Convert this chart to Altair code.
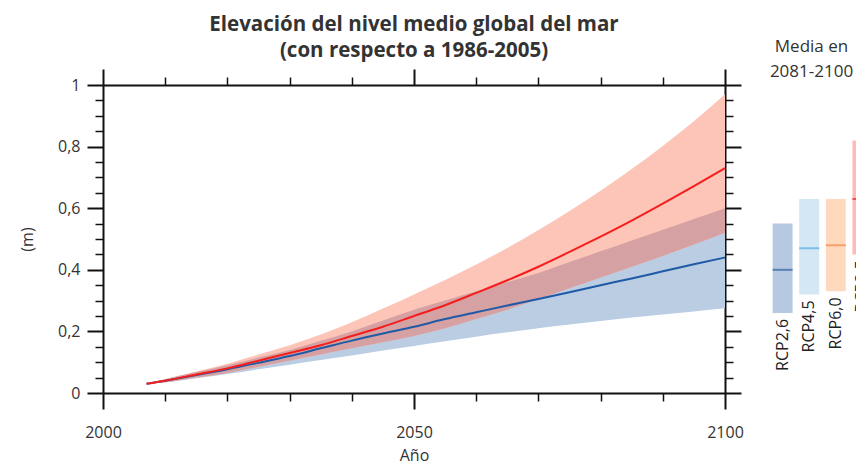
import altair as alt
import pandas as pd

# ---- time series ----
years = [2007, 2010, 2015, 2020, 2025, 2030, 2035, 2040, 2045, 2050,
         2055, 2060, 2065, 2070, 2075, 2080, 2085, 2090, 2095, 2100]

rcp85_mean = [0.030, 0.040, 0.060, 0.080, 0.105, 0.130, 0.155, 0.185, 0.215, 0.250,
              0.285, 0.325, 0.366, 0.410, 0.458, 0.508, 0.560, 0.615, 0.672, 0.730]
rcp85_low = [0.030, 0.035, 0.050, 0.065, 0.085, 0.105, 0.125, 0.145, 0.165, 0.185,
             0.210, 0.240, 0.270, 0.305, 0.340, 0.375, 0.410, 0.445, 0.482, 0.520]
rcp85_high = [0.030, 0.045, 0.070, 0.095, 0.125, 0.155, 0.190, 0.230, 0.274, 0.320,
              0.367, 0.417, 0.471, 0.529, 0.591, 0.657, 0.727, 0.802, 0.882, 0.970]

rcp26_mean = [0.030, 0.040, 0.058, 0.077, 0.098, 0.120, 0.145, 0.170, 0.193, 0.215,
              0.240, 0.262, 0.284, 0.305, 0.327, 0.350, 0.372, 0.395, 0.418, 0.440]
rcp26_low = [0.030, 0.035, 0.048, 0.062, 0.077, 0.092, 0.107, 0.122, 0.138, 0.153,
             0.168, 0.183, 0.197, 0.210, 0.222, 0.234, 0.245, 0.255, 0.265, 0.275]
rcp26_high = [0.030, 0.045, 0.068, 0.090, 0.115, 0.140, 0.170, 0.200, 0.235, 0.270,
              0.300, 0.330, 0.360, 0.390, 0.425, 0.460, 0.495, 0.530, 0.565, 0.600]

# ---- 2081-2100 averages ----
scenarios = ["RCP2,6", "RCP4,5", "RCP6,0", "RCP8,5"]
avg_mean = [0.40, 0.47, 0.48, 0.63]
avg_low = [0.26, 0.32, 0.33, 0.45]
avg_high = [0.55, 0.63, 0.63, 0.82]
bar_fill = ["#b7c9e1", "#d3e7f5", "#fed9be", "#fdbcbb"]
bar_line = ["#2c5fa3", "#5aacdf", "#f6894a", "#ec1c24"]

# ---- axis ticks ----
x_ticks = list(range(2000, 2101, 10))
y_ticks = [round(i * 0.05, 2) for i in range(21)]

FONT = "Open Sans"
INK = "#333333"

df = pd.DataFrame({
    "year": years,
    "m85": rcp85_mean, "lo85": rcp85_low, "hi85": rcp85_high,
    "m26": rcp26_mean, "lo26": rcp26_low, "hi26": rcp26_high,
})
df["ovlo"] = df[["lo85", "lo26"]].max(axis=1)
df["ovhi"] = df[["hi85", "hi26"]].min(axis=1)

xs = alt.Scale(domain=[2000, 2100], nice=False, zero=False)
ys = alt.Scale(domain=[0, 1], nice=False, zero=False)

major_x = "datum.value % 50 === 0"
major_y = "abs(datum.value * 5 - round(datum.value * 5)) < 0.001"


def x_axis(orient, labels):
    kw = dict(
        orient=orient, values=x_ticks, grid=False,
        domainColor="#111111", domainWidth=2,
        tickColor="#111111",
        tickSize={"condition": {"test": major_x, "value": 16}, "value": 8},
        tickWidth={"condition": {"test": major_x, "value": 2}, "value": 1.5},
        labelFlush=False, labelOverlap=False,
    )
    if labels:
        kw.update(labelExpr=major_x + " ? '' + datum.value : ''",
                  labelFont=FONT, labelFontSize=16, labelColor=INK,
                  labelPadding=15, title="Año", titleFont=FONT,
                  titleFontSize=16, titleFontWeight="normal",
                  titleColor=INK, titlePadding=7)
    else:
        kw.update(labels=False, title=None)
    return alt.Axis(**kw)


def y_axis(orient, labels):
    kw = dict(
        orient=orient, values=y_ticks, grid=False,
        domainColor="#111111", domainWidth=2,
        tickColor="#111111",
        tickSize={"condition": {"test": major_y, "value": 16}, "value": 8},
        tickWidth={"condition": {"test": major_y, "value": 2}, "value": 1.5},
        labelFlush=False, labelOverlap=False,
    )
    if labels:
        kw.update(labelExpr=major_y + " ? replace(format(datum.value, '.1~f'), '.', ',') : ''",
                  labelFont=FONT, labelFontSize=16, labelColor=INK,
                  labelPadding=7, title="(m)", titleFont=FONT,
                  titleFontSize=16, titleFontWeight="normal",
                  titleColor=INK, titlePadding=22)
    else:
        kw.update(labels=False, title=None)
    return alt.Axis(**kw)


base = alt.Chart(df)

band26 = base.mark_area(color="#bacde3", opacity=1, interpolate="monotone").encode(
    x=alt.X("year:Q", scale=xs, axis=x_axis("bottom", True)),
    y=alt.Y("lo26:Q", scale=ys, axis=y_axis("left", True)),
    y2="hi26:Q",
)
band85 = base.mark_area(color="#fdc5b8", opacity=1, interpolate="monotone").encode(
    x=alt.X("year:Q", scale=xs, axis=x_axis("top", False)),
    y=alt.Y("lo85:Q", scale=ys, axis=y_axis("right", False)),
    y2="hi85:Q",
)
overlap = base.mark_area(color="#d6a1a2", opacity=1, interpolate="monotone").encode(
    x=alt.X("year:Q", scale=xs, axis=None),
    y=alt.Y("ovlo:Q", scale=ys, axis=None),
    y2="ovhi:Q",
)
line26 = base.mark_line(color="#1f5aa6", strokeWidth=2, interpolate="monotone").encode(
    x=alt.X("year:Q", scale=xs, axis=None),
    y=alt.Y("m26:Q", scale=ys, axis=None),
)
line85 = base.mark_line(color="#f51d1d", strokeWidth=2, interpolate="monotone").encode(
    x=alt.X("year:Q", scale=xs, axis=None),
    y=alt.Y("m85:Q", scale=ys, axis=None),
)

main = alt.layer(band26, band85, overlap, line26, line85).resolve_axis(
    x="independent", y="independent"
).properties(
    width=622, height=308,
    title=alt.TitleParams(
        ["Elevación del nivel medio global del mar", "(con respecto a 1986-2005)"],
        font=FONT, fontSize=20.5, fontWeight="bold", color=INK,
        lineHeight=26, anchor="middle", frame="group", offset=7,
    ),
)

sdf = pd.DataFrame({
    "scen": scenarios, "mean": avg_mean, "lo": avg_low, "hi": avg_high,
    "fill": bar_fill, "line": bar_line,
})

sx = alt.Scale(domain=scenarios, range=[0, 113], paddingInner=0.25, paddingOuter=0.25)
sb = alt.Chart(sdf)

bars = sb.mark_bar(clip=True).encode(
    x=alt.X("scen:N", scale=sx, axis=None, sort=scenarios),
    y=alt.Y("lo:Q", scale=ys, axis=None),
    y2="hi:Q",
    color=alt.Color("fill:N", scale=None, legend=None),
)
ticks = sb.mark_tick(thickness=2, size=20, clip=True).encode(
    x=alt.X("scen:N", scale=sx, axis=None, sort=scenarios),
    y=alt.Y("mean:Q", scale=ys, axis=None),
    color=alt.Color("line:N", scale=None, legend=None),
)
labels = sb.mark_text(angle=270, align="right", baseline="middle", dx=-6,
                      font=FONT, fontSize=16, color="#222222", clip=True).encode(
    x=alt.X("scen:N", scale=sx, axis=None, sort=scenarios),
    y=alt.Y("lo:Q", scale=ys, axis=None),
    text="scen:N",
)

side = alt.layer(bars, ticks, labels).properties(
    width=97, height=308,
    title=alt.TitleParams(
        ["Media en", "2081-2100"], font=FONT, fontSize=17, fontWeight="normal",
        color=INK, lineHeight=25, anchor="middle", frame="group", offset=4, dx=-3,
    ),
)

chart = alt.hconcat(main, side, spacing=41, bounds="flush").properties(
    padding={"left": 11, "top": 6, "right": -7, "bottom": 3},
    background="white",
).configure_view(strokeWidth=0, stroke="transparent")

chart.save("out.html", embed_options={"renderer": "svg", "actions": False})
